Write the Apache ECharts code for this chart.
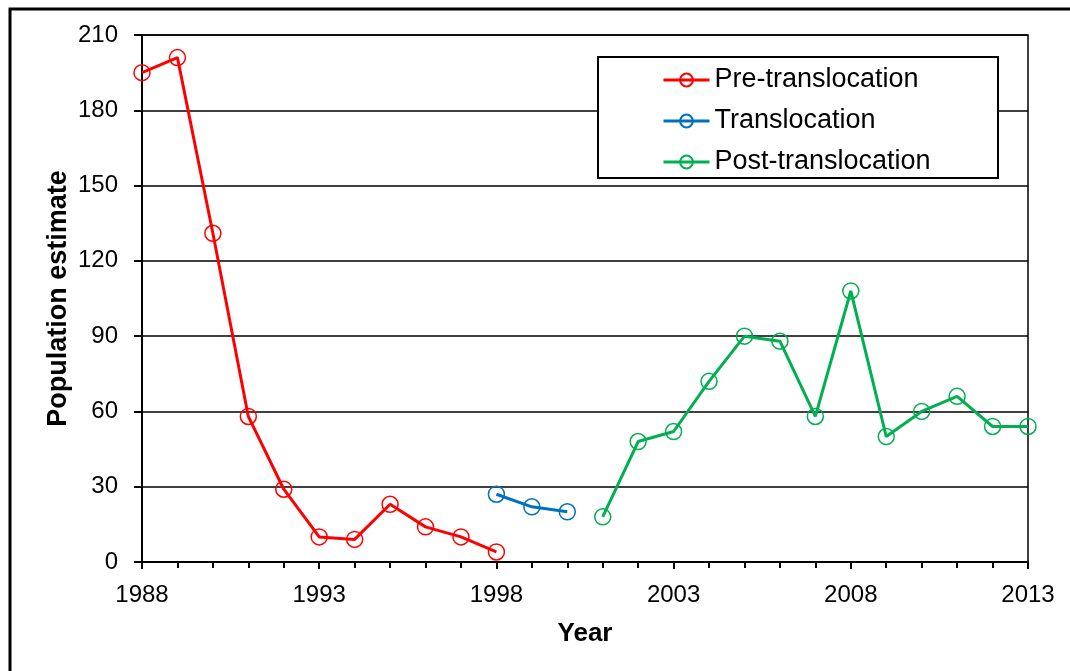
<!DOCTYPE html>
<html>
<head>
<meta charset="utf-8">
<script src="https://cdn.jsdelivr.net/npm/echarts@6/dist/echarts.min.js"></script>
<style>
  html, body { margin: 0; padding: 0; background: #fff; }
  #chart { width: 1070px; height: 671px; }
</style>
</head>
<body>
<div id="chart"></div>
<script>
// data
const preYears = [1988, 1989, 1990, 1991, 1992, 1993, 1994, 1995, 1996, 1997, 1998]
const preValues = [195, 201, 131, 58, 29, 10, 9, 23, 14, 10, 4]
const transYears = [1998, 1999, 2000]
const transValues = [27, 22, 20]
const postYears = [2001, 2002, 2003, 2004, 2005, 2006, 2007, 2008, 2009, 2010, 2011, 2012, 2013]
const postValues = [18, 48, 52, 72, 90, 88, 58, 108, 50, 60, 66, 54, 54]

const pairs = (xs, ys) => xs.map((x, i) => [x, ys[i]])
const font = 'Liberation Sans, Arial, sans-serif'

function makeSeries(name, color, xs, ys) {
  return {
    name: name,
    type: 'line',
    data: pairs(xs, ys),
    symbol: 'circle',
    symbolSize: 16,
    z: 5,
    lineStyle: { color: color, width: 3 },
    itemStyle: { color: 'rgba(255,255,255,0)', borderColor: color, borderWidth: 1.5 }
  }
}

const myChart = echarts.init(document.getElementById('chart'))
myChart.setOption({
  animation: false,
  backgroundColor: '#fff',
  textStyle: { fontFamily: font },
  grid: {
    left: 142,
    right: 42,
    top: 35,
    bottom: 109,
    show: true,
    borderColor: '#000',
    borderWidth: 1.5
  },
  graphic: [
    {
      type: 'rect',
      z: 0,
      shape: { x: 10, y: 9, width: 1200, height: 1200 },
      style: { fill: 'none', stroke: '#000', lineWidth: 3 }
    },
    {
      type: 'rect',
      z: 3,
      shape: { x: 598, y: 57, width: 400, height: 121 },
      style: { fill: '#fff', stroke: '#000', lineWidth: 2 }
    }
  ],
  legend: {
    z: 10,
    orient: 'vertical',
    left: 662,
    top: 64,
    itemWidth: 46,
    itemHeight: 16,
    itemGap: 9,
    padding: 0,
    lineStyle: { width: 3 },
    textStyle: { fontFamily: font, fontSize: 27, color: '#000', lineHeight: 32 },
    data: ['Pre-translocation', 'Translocation', 'Post-translocation']
  },
  xAxis: {
    type: 'value',
    min: 1988,
    max: 2013,
    interval: 5,
    name: 'Year',
    nameLocation: 'middle',
    nameGap: 59,
    nameMoveOverlap: false,
    nameTextStyle: { fontFamily: font, fontSize: 26, fontWeight: 'bold', color: '#000' },
    axisLine: { lineStyle: { color: '#000', width: 2 } },
    axisTick: { length: 7, lineStyle: { color: '#000', width: 2 } },
    minorTick: { show: true, splitNumber: 5, length: 6, lineStyle: { color: '#000', width: 2 } },
    splitLine: { show: false },
    axisLabel: { fontFamily: font, fontSize: 24, color: '#000', margin: 21, formatter: (v) => String(v) }
  },
  yAxis: {
    type: 'value',
    min: 0,
    max: 210,
    interval: 30,
    name: 'Population estimate',
    nameLocation: 'middle',
    nameGap: 70,
    nameMoveOverlap: false,
    nameTextStyle: { fontFamily: font, fontSize: 27, fontWeight: 'bold', color: '#000' },
    axisLine: { show: true, lineStyle: { color: '#000', width: 2 } },
    axisTick: { show: true, length: 8, lineStyle: { color: '#000', width: 2 } },
    splitLine: { show: true, lineStyle: { color: '#000', width: 1.5 } },
    axisLabel: { fontFamily: font, fontSize: 24, color: '#000', margin: 24 }
  },
  series: [
    makeSeries('Pre-translocation', '#FF0000', preYears, preValues),
    makeSeries('Translocation', '#0070C0', transYears, transValues),
    makeSeries('Post-translocation', '#00B050', postYears, postValues)
  ]
})
</script>
</body>
</html>
